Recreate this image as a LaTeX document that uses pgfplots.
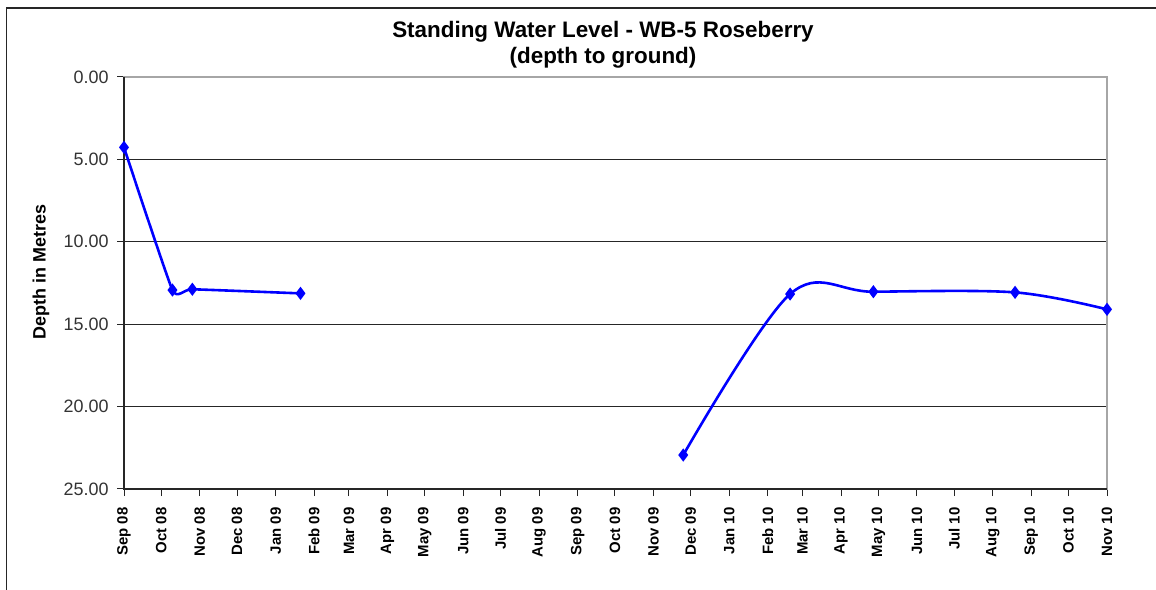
\documentclass[border=0pt]{standalone}
\usepackage{pgfplots}
\pgfplotsset{compat=1.18}
\usepackage{fontspec}
\setmainfont{Liberation Sans}
\definecolor{lineblue}{RGB}{0,0,255}
\begin{document}
\begin{tikzpicture}[x=1bp,y=1bp]
\path[use as bounding box] (0,0) rectangle (1156,590);
\draw[black!85, line width=1.3bp] (6.5,0) -- (6.5,582) -- (1156,582);
\node[font=\fontsize{22.5}{26}\selectfont\bfseries, align=center] at (603,545) {Standing Water Level - WB-5 Roseberry\\(depth to ground)};
\node[font=\fontsize{18}{20}\selectfont\bfseries, rotate=90] at (41,318) {Depth in Metres};
\begin{axis}[at={(124bp,101bp)}, anchor=south west, scale only axis,
  width=983bp, height=412bp,
  xmin=0, xmax=791, ymin=0, ymax=25, y dir=reverse,
  ytick={0,5,10,15,20,25},
  yticklabel={\pgfmathprintnumber[fixed,fixed zerofill,precision=2]{\tick}},
  yticklabel style={font=\fontsize{18}{20}\selectfont, text=black!80},
  yticklabel shift=5bp,
  /pgf/number format/assume math mode=true,
  xtick={0,30,61,91,122,153,181,212,242,273,303,334,365,395,426,456,487,518,546,577,607,638,668,699,730,760,791},
  xticklabels={Sep 08,Oct 08,Nov 08,Dec 08,Jan 09,Feb 09,Mar 09,Apr 09,May 09,Jun 09,Jul 09,Aug 09,Sep 09,Oct 09,Nov 09,Dec 09,Jan 10,Feb 10,Mar 10,Apr 10,May 10,Jun 10,Jul 10,Aug 10,Sep 10,Oct 10,Nov 10},
  xticklabel style={font=\fontsize{15}{17}\selectfont\bfseries, rotate=90, anchor=east},
  xticklabel shift=8bp,
  xtick pos=lower, xticklabel pos=lower, ytick pos=left,
  tick align=outside, major tick length=7bp,
  tick style={black!85, line width=1bp},
  ymajorgrids, grid style={black!85, line width=0.9bp},
  axis line style={gray!70, line width=1.2bp},
  clip=false,
]
\draw[black!85, line width=1.2bp] (axis cs:0,0) -- (axis cs:0,25) -- (axis cs:791,25);
\addplot[lineblue, line width=2.6bp, smooth, tension=0.25, mark=diamond*, mark size=4.5bp, mark options={solid}]
  coordinates {(0,4.27) (39,12.93) (55,12.88) (142,13.13)};
\addplot[lineblue, line width=2.6bp, smooth, tension=0.55, mark=diamond*, mark size=4.5bp, mark options={solid}]
  coordinates {(450,22.94) (536,13.17) (603,13.03) (717,13.07) (791,14.10)};
\end{axis}
\end{tikzpicture}
\end{document}
